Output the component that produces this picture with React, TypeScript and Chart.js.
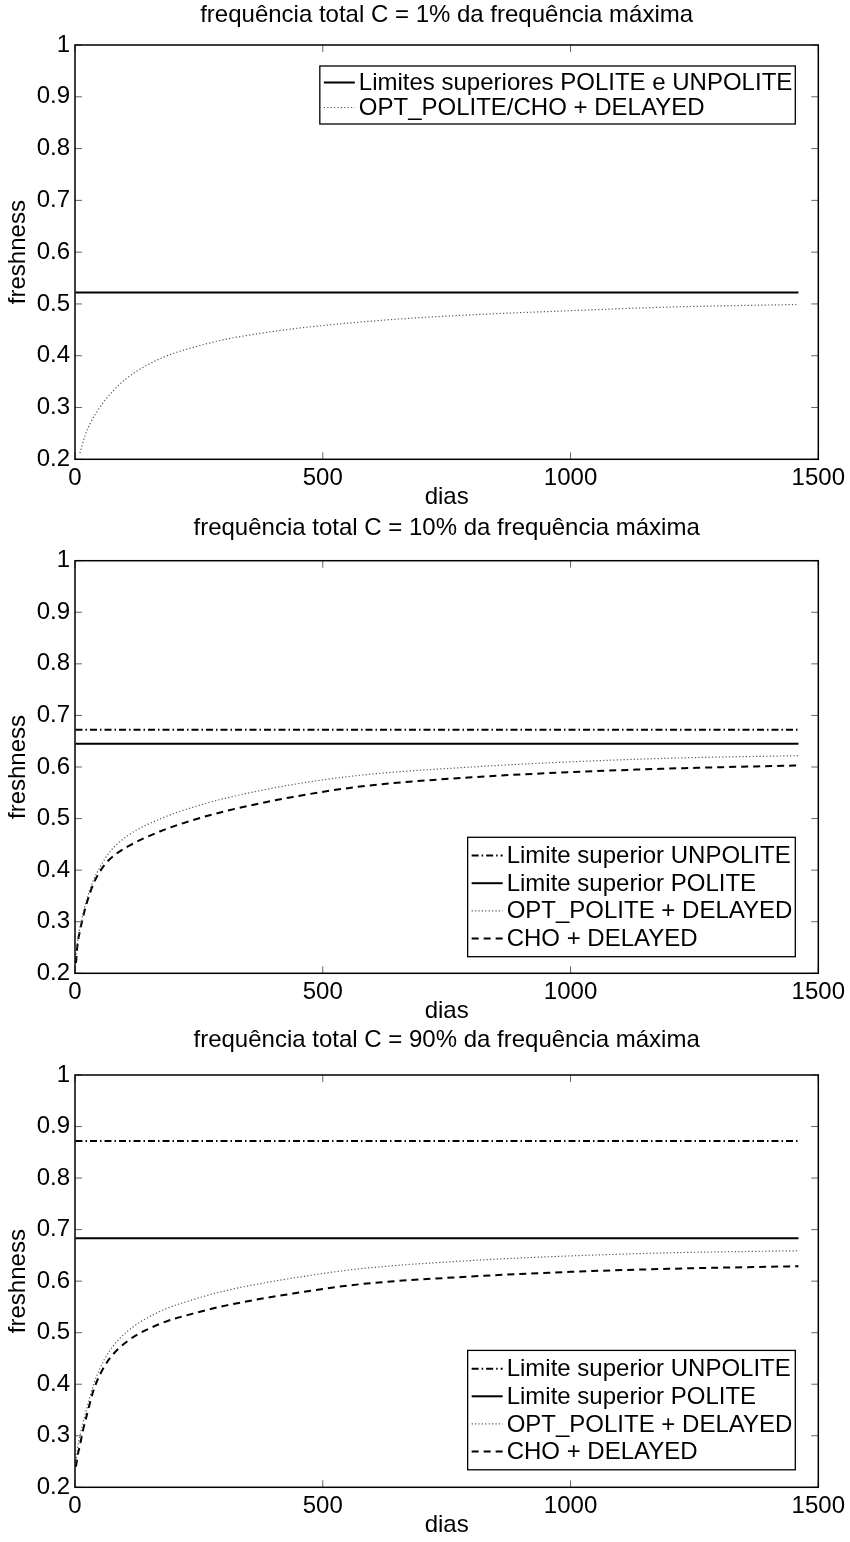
import React, { useEffect, useRef } from 'react';
import { Chart, registerables } from 'chart.js';

Chart.register(...registerables);

// ---------------- data ----------------
const X_TICKS = [0, 500, 1000, 1500];
const Y_TICKS = [0.2, 0.3, 0.4, 0.5, 0.6, 0.7, 0.8, 0.9, 1];

const TITLES = [
  'frequência total C = 1% da frequência máxima',
  'frequência total C = 10% da frequência máxima',
  'frequência total C = 90% da frequência máxima',
];
const X_LABEL = 'dias';
const Y_LABEL = 'freshness';

// horizontal upper limits span the simulated period
const DIAS_LIMITE = [1, 1460];

// panel 1 (C = 1%)
const DIAS_1 = [10, 20, 30, 50, 70, 105, 171, 238, 306, 373, 440, 508, 575, 655, 800, 1000, 1200, 1460];
const OPT_CHO_1 = [0.212, 0.245, 0.268, 0.3, 0.325, 0.357, 0.394, 0.416, 0.432, 0.443, 0.452, 0.459, 0.465, 0.471, 0.479, 0.487, 0.494, 0.499];
const LIMITE_1 = 0.522;

// panels 2 and 3 share the sampled days
const DIAS = [2, 5, 10, 16, 23, 37, 50, 70, 105, 171, 238, 306, 440, 575, 800, 1000, 1200, 1460];

// panel 2 (C = 10%)
const OPT_2 = [0.23, 0.26, 0.289, 0.315, 0.341, 0.38, 0.405, 0.435, 0.466, 0.499, 0.522, 0.54, 0.566, 0.584, 0.6, 0.61, 0.617, 0.622];
const CHO_2 = [0.22, 0.255, 0.282, 0.308, 0.334, 0.373, 0.397, 0.421, 0.445, 0.475, 0.497, 0.515, 0.542, 0.562, 0.58, 0.59, 0.597, 0.603];
const UNPOLITE_2 = 0.672;
const POLITE_2 = 0.645;

// panel 3 (C = 90%)
const OPT_3 = [0.25, 0.275, 0.3, 0.325, 0.35, 0.398, 0.43, 0.465, 0.502, 0.541, 0.564, 0.582, 0.606, 0.624, 0.64, 0.649, 0.655, 0.659];
const CHO_3 = [0.24, 0.26, 0.282, 0.31, 0.337, 0.387, 0.418, 0.45, 0.483, 0.517, 0.537, 0.553, 0.576, 0.594, 0.609, 0.618, 0.624, 0.629];
const UNPOLITE_3 = 0.872;
const POLITE_3 = 0.683;

const LABELS_1 = ['Limites superiores POLITE e UNPOLITE', 'OPT_POLITE/CHO + DELAYED'];
const LABELS_4 = ['Limite superior UNPOLITE', 'Limite superior POLITE', 'OPT_POLITE + DELAYED', 'CHO + DELAYED'];

// ---------------- styles ----------------
const FONT = "'Liberation Sans', Arial, Helvetica, sans-serif";
const FS = 24;

const STYLE_SOLID = { borderColor: '#000', borderWidth: 2, borderDash: [] as number[] };
const STYLE_DOT = { borderColor: '#555', borderWidth: 1.2, borderDash: [1.2, 2.2] };
const STYLE_DASH = { borderColor: '#000', borderWidth: 2, borderDash: [7, 5] };
const STYLE_DASHDOT = { borderColor: '#000', borderWidth: 2, borderDash: [7, 3, 1.5, 3] };

const pts = (xs: number[], ys: number[]) => xs.map((x, i) => ({ x, y: ys[i] }));
const flat = (xs: number[], v: number) => xs.map((x) => ({ x, y: v }));

const lineDs = (label: string, data: any[], style: any, curve: boolean) => ({
  label,
  data,
  ...style,
  fill: false,
  pointRadius: 0,
  pointHoverRadius: 0,
  tension: curve ? 0.4 : 0,
  cubicInterpolationMode: curve ? 'monotone' : 'default',
  borderCapStyle: 'butt',
});

const DATASETS = [
  [
    lineDs(LABELS_1[0], flat(DIAS_LIMITE, LIMITE_1), STYLE_SOLID, false),
    lineDs(LABELS_1[1], pts(DIAS_1, OPT_CHO_1), STYLE_DOT, true),
  ],
  [
    lineDs(LABELS_4[0], flat(DIAS_LIMITE, UNPOLITE_2), STYLE_DASHDOT, false),
    lineDs(LABELS_4[1], flat(DIAS_LIMITE, POLITE_2), STYLE_SOLID, false),
    lineDs(LABELS_4[2], pts(DIAS, OPT_2), STYLE_DOT, true),
    lineDs(LABELS_4[3], pts(DIAS, CHO_2), STYLE_DASH, true),
  ],
  [
    lineDs(LABELS_4[0], flat(DIAS_LIMITE, UNPOLITE_3), STYLE_DASHDOT, false),
    lineDs(LABELS_4[1], flat(DIAS_LIMITE, POLITE_3), STYLE_SOLID, false),
    lineDs(LABELS_4[2], pts(DIAS, OPT_3), STYLE_DOT, true),
    lineDs(LABELS_4[3], pts(DIAS, CHO_3), STYLE_DASH, true),
  ],
];

// layout of the three panels (page pixels)
const PANELS = [
  { top: 0, height: 513, plotTop: 45, plotBottom: 459.3, titleY: 15, legend: { anchor: 'top', offset: 21, rowH: 25, edge: 16.5 } },
  { top: 513, height: 513, plotTop: 47.7, plotBottom: 460.3, titleY: 15, legend: { anchor: 'bottom', offset: 16.6, rowH: 27.6, edge: 18.3 } },
  { top: 1026, height: 516, plotTop: 49, plotBottom: 461.3, titleY: 14.5, legend: { anchor: 'bottom', offset: 17.5, rowH: 27.6, edge: 18.3 } },
];
const PLOT_LEFT = 75;
const PLOT_RIGHT = 819;
const PAGE_W = 850;

// ---------------- plugins ----------------
const titlePlugin = {
  id: 'matlabTitle',
  afterDraw(chart: any, _a: any, opts: any) {
    const { ctx, chartArea } = chart;
    ctx.save();
    ctx.font = `${FS}px ${FONT}`;
    ctx.fillStyle = '#000';
    ctx.textAlign = 'center';
    ctx.textBaseline = 'middle';
    ctx.fillText(opts.text, (chartArea.left + chartArea.right) / 2, opts.y);
    ctx.restore();
  },
};

const legendPlugin = {
  id: 'matlabLegend',
  afterDatasetsDraw(chart: any, _a: any, opts: any) {
    const { ctx, chartArea } = chart;
    const items = chart.data.datasets;
    ctx.save();
    ctx.font = `${FS}px ${FONT}`;
    const rowH = opts.rowH;
    const edge = opts.edge;
    const padL = 4, sample = 31, gap = 4, padR = 3;
    const textW = Math.max(...items.map((d: any) => ctx.measureText(d.label).width));
    const w = padL + sample + gap + textW + padR;
    const h = rowH * (items.length - 1) + 2 * edge;
    const right = chartArea.right - 23;
    const left = right - w;
    const top = opts.anchor === 'top' ? chartArea.top + opts.offset : chartArea.bottom - opts.offset - h;
    ctx.fillStyle = '#fff';
    ctx.fillRect(left, top, w, h);
    ctx.strokeStyle = '#000';
    ctx.lineWidth = 1.3;
    ctx.setLineDash([]);
    ctx.strokeRect(left, top, w, h);
    items.forEach((d: any, i: number) => {
      const y = top + edge + i * rowH;
      ctx.save();
      ctx.strokeStyle = d.borderColor;
      ctx.lineWidth = d.borderWidth;
      ctx.setLineDash(d.borderDash || []);
      ctx.beginPath();
      ctx.moveTo(left + padL, y);
      ctx.lineTo(left + padL + sample, y);
      ctx.stroke();
      ctx.restore();
      ctx.fillStyle = '#000';
      ctx.textBaseline = 'middle';
      ctx.textAlign = 'left';
      ctx.fillText(d.label, left + padL + sample + gap, y + 1);
    });
    ctx.restore();
  },
};

const framePlugin = {
  id: 'matlabFrame',
  afterDraw(chart: any) {
    const { ctx, chartArea: a, scales } = chart;
    const L = 7;
    ctx.save();
    ctx.strokeStyle = '#666';
    ctx.lineWidth = 1;
    const seg = (x1: number, y1: number, x2: number, y2: number) => {
      ctx.beginPath();
      ctx.moveTo(x1, y1);
      ctx.lineTo(x2, y2);
      ctx.stroke();
    };
    scales.x.ticks.forEach((t: any) => {
      const px = scales.x.getPixelForValue(t.value);
      seg(px, a.bottom, px, a.bottom - L);
      seg(px, a.top, px, a.top + L);
    });
    scales.y.ticks.forEach((t: any) => {
      const py = scales.y.getPixelForValue(t.value);
      seg(a.left, py, a.left + L, py);
      seg(a.right, py, a.right - L, py);
    });
    ctx.strokeStyle = '#000';
    ctx.lineWidth = 1.5;
    ctx.strokeRect(a.left, a.top, a.right - a.left, a.bottom - a.top);
    ctx.restore();
  },
};

// ---------------- component ----------------
function Panel({ idx }: { idx: number }) {
  const ref = useRef<HTMLCanvasElement>(null);
  const p = PANELS[idx];
  useEffect(() => {
    if (!ref.current) return;
    Chart.defaults.color = '#000';
    const font = { family: FONT, size: FS, weight: 'normal' as const };
    const xAxisH = p.height - p.plotBottom;
    const diasPadBottom = Math.max(0, p.height - p.plotBottom - 52.4);
    const chart = new Chart(ref.current, {
      type: 'line',
      data: { datasets: DATASETS[idx] as any },
      plugins: [legendPlugin, framePlugin, titlePlugin],
      options: {
        animation: false,
        responsive: false,
        maintainAspectRatio: false,
        events: [],
        layout: { padding: { left: 0, right: PAGE_W - PLOT_RIGHT, top: p.plotTop, bottom: 0 } },
        scales: {
          x: {
            type: 'linear',
            min: X_TICKS[0],
            max: X_TICKS[X_TICKS.length - 1],
            afterBuildTicks: (s: any) => {
              s.ticks = X_TICKS.map((v) => ({ value: v }));
            },
            afterFit: (s: any) => {
              s.height = xAxisH;
            },
            grid: { display: false, drawTicks: false },
            border: { display: false },
            ticks: { font, color: '#000', padding: 5, maxRotation: 0, autoSkip: false, callback: (v: any) => String(v) },
            title: { display: true, text: X_LABEL, font, color: '#000', padding: { top: 0, bottom: diasPadBottom } },
          },
          y: {
            type: 'linear',
            min: Y_TICKS[0],
            max: Y_TICKS[Y_TICKS.length - 1],
            afterBuildTicks: (s: any) => {
              s.ticks = Y_TICKS.map((v) => ({ value: v }));
            },
            afterFit: (s: any) => {
              s.width = PLOT_LEFT;
            },
            grid: { display: false, drawTicks: false },
            border: { display: false },
            ticks: { font, color: '#000', padding: 5, autoSkip: false, callback: (v: any) => String(Number(Number(v).toFixed(1))) },
            title: { display: true, text: Y_LABEL, font, color: '#000', padding: { top: 4, bottom: 0 } },
          },
        },
        plugins: {
          legend: { display: false },
          tooltip: { enabled: false },
          title: { display: false },
          matlabTitle: { text: TITLES[idx], y: p.titleY },
          matlabLegend: p.legend,
        } as any,
      },
    });
    return () => chart.destroy();
  }, [idx]);
  return (
    <canvas
      ref={ref}
      width={PAGE_W}
      height={p.height}
      style={{ position: 'absolute', left: 0, top: p.top, width: PAGE_W, height: p.height, display: 'block' }}
    />
  );
}

export default function App() {
  return (
    <div style={{ position: 'absolute', left: 0, top: 0, width: PAGE_W, height: 1542, background: '#fff' }}>
      {PANELS.map((_, i) => (
        <Panel key={i} idx={i} />
      ))}
    </div>
  );
}
